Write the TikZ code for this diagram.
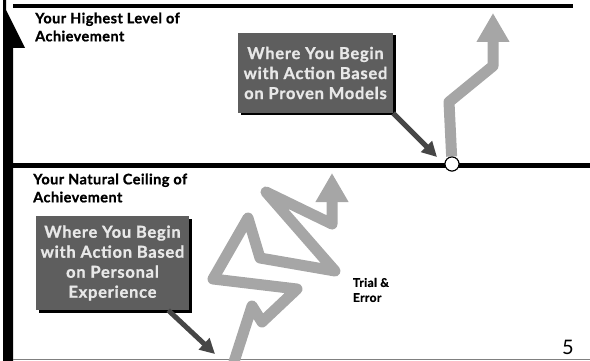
\documentclass[tikz,border=0pt]{standalone}
\usepackage{fontspec}
\setmainfont{Lato}
\usetikzlibrary{arrows.meta,shadows,positioning}

\definecolor{zigzag}{RGB}{166,166,166}
\definecolor{boxgray}{RGB}{94,94,94}
\definecolor{boxtext}{RGB}{232,232,232}
\definecolor{pointer}{RGB}{70,70,70}

\begin{document}
\begin{tikzpicture}[
      x=1pt, y=-1pt,
      levelcap/.style={font=\fontsize{14.5}{18}\selectfont\bfseries\addfontfeature{LetterSpace=3,FakeBold=1}, align=left, anchor=west, inner sep=0pt},
      startbox/.style={fill=boxgray, text=boxtext, font=\fontsize{16.5}{20}\selectfont\bfseries\addfontfeature{LetterSpace=4.5,FakeBold=1},
        align=center, inner sep=0pt, drop shadow={shadow xshift=2.5pt, shadow yshift=-2.5pt, fill=black, opacity=1}},
      zig/.style={draw=zigzag, line width=11pt, line join=round, -{Triangle[width=31pt,length=29pt]}},
      pointto/.style={draw=pointer, line width=5pt, -{Triangle[width=15pt,length=15pt]}},
      >=stealth
      ]

  \useasboundingbox (0,0) rectangle (590,361);

  % frame and levels
  \fill (3,361) -- (3,0) -- (6,0) -- (6,10) -- (25,48) -- (13,48) -- (13,361) -- cycle;
  \draw[line width=4pt] (13,6) -- (573,6);
  \draw[line width=5pt] (13,166) -- (590,166);
  \draw[gray, line width=1.5pt] (13,359.5) -- (590,359.5);

  \node[levelcap] (highest) at (35,27) {Your Highest Level of\\Achievement};
  \node[levelcap] (ceiling) at (33,188) {Your Natural Ceiling of\\Achievement};

  % trial and error path
  \draw[zig] (233,365) -- (252,306) -- (262,322) -- (297,289) -- (213,279) -- (248,218)
    -- (260,258) -- (335,271) -- (266,192) -- (332,224) -- (332,173);
  \node[font=\fontsize{12}{15}\selectfont\bfseries\addfontfeature{LetterSpace=3,FakeBold=1}, align=left] (trial) at (371,290) {Trial \&\\Error};

  % proven models path
  \node[circle, draw, line width=1pt, fill=white, minimum size=14pt, inner sep=0pt] (start) at (452,164) {};
  \draw[zig] (start) -- (449,102) -- (493,66) -- (493,13);
  \node[circle, draw, line width=1pt, fill=white, minimum size=14pt, inner sep=0pt] at (start) {};

  \node[startbox, minimum width=155pt, minimum height=80pt] (proven) at (315.5,73)
    {Where You Begin\\with Action Based\\on Proven Models};
  \node[startbox, minimum width=153pt, minimum height=94pt] (personal) at (112.5,263)
    {Where You Begin\\with Action Based\\on Personal\\Experience};

  \coordinate (tip1) at (437,157);
  \coordinate (tip2) at (215,354);
  \draw[pointto] (proven.south east) -- (tip1);
  \draw[pointto] ([xshift=-21pt]personal.south east) -- (tip2);

  \node[font=\fontsize{20}{24}\selectfont] (page) at (568,347) {5};

\end{tikzpicture}
\end{document}
